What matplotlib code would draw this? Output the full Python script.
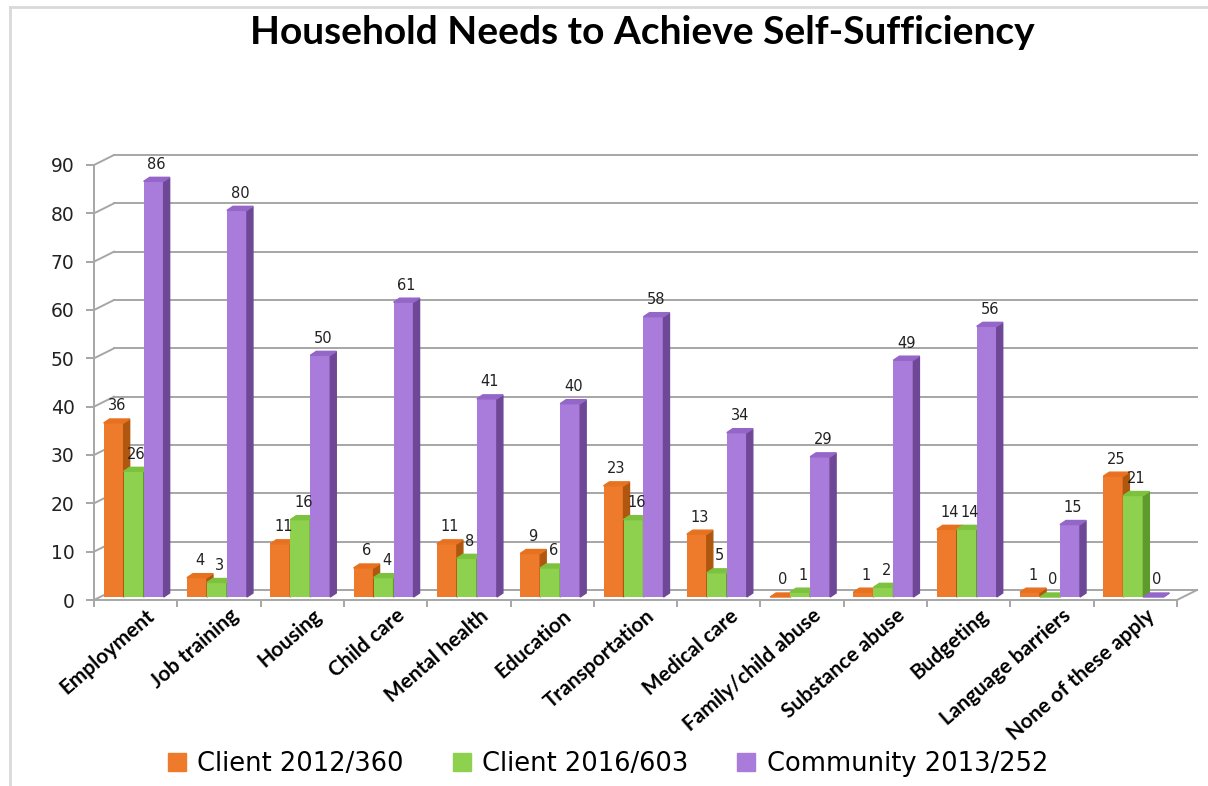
import numpy as np
import matplotlib
matplotlib.use("Agg")
import matplotlib.pyplot as plt
from matplotlib.patches import Polygon
from matplotlib.lines import Line2D
from matplotlib.transforms import ScaledTranslation

categories = ["Employment", "Job training", "Housing", "Child care", "Mental health",
              "Education", "Transportation", "Medical care", "Family/child abuse",
              "Substance abuse", "Budgeting", "Language barriers", "None of these apply"]
client_2012 = [36, 4, 11, 6, 11, 9, 23, 13, 0, 1, 14, 1, 25]
client_2016 = [26, 3, 16, 4, 8, 6, 16, 5, 1, 2, 14, 0, 21]
community_2013 = [86, 80, 50, 61, 41, 40, 58, 34, 29, 49, 56, 15, 0]
series_names = ["Client 2012/360", "Client 2016/603", "Community 2013/252"]
y_ticks = list(range(0, 91, 10))

# front, side, top colours for each series
colors = [("#EE7B2C", "#B0570F", "#E8711F"),
          ("#8ED14F", "#5E9A2C", "#7DC23E"),
          ("#A97BDA", "#6E4896", "#9466C8")]

W, H = 1208, 786
fig = plt.figure(figsize=(W / 100, H / 100), dpi=100)
pos = [94 / W, 186 / H, 1083 / W, 435 / H]
ax = fig.add_axes(pos)
n = len(categories)
ax.set_xlim(-0.5, n - 0.5)
ax.set_ylim(0, 90)

# data units per pixel
ux = n / (W * pos[2])
uy = 90 / (H * pos[3])
grid_c = "#A6A6A6"

# back wall and left wall
bx, by = 20 * ux, 10 * uy
for t in y_ticks:
    ax.plot([-0.5 + bx, n - 0.5 + bx], [t + by, t + by], color=grid_c, lw=1.4,
            clip_on=False, zorder=1)
    ax.plot([-0.5, -0.5 + bx], [t, t + by], color=grid_c, lw=1.4, clip_on=False, zorder=1)
ax.plot([n - 0.5, n - 0.5 + bx], [0, by], color=grid_c, lw=1.4, clip_on=False, zorder=1)

# bars with pseudo 3d faces
w = 0.24
dx, dy = 6 * ux, 4 * uy
base = 3 * uy
shift = -2 * ux
x = np.arange(n)
for j, vals in enumerate([client_2012, client_2016, community_2013]):
    front, side, top = colors[j]
    xs = x + (j - 1) * w + shift
    ax.bar(xs, vals, width=w, bottom=base, color=front, zorder=3 + j, clip_on=False,
           label=series_names[j])
    for xc, v in zip(xs, vals):
        r = xc + w / 2
        l = xc - w / 2
        t = base + v
        ax.add_patch(Polygon([(r, base), (r + dx, base + dy), (r + dx, t + dy), (r, t)],
                             closed=True, color=side, zorder=3 + j, clip_on=False))
        ax.add_patch(Polygon([(l, t), (l + dx, t + dy), (r + dx, t + dy), (r, t)],
                             closed=True, color=top, zorder=3 + j, clip_on=False))
        ax.annotate(str(v), (xc + dx / 2, t + dy), xytext=(0, 4), textcoords="offset points",
                    ha="center", va="bottom", fontsize=10.5, color="#222222", zorder=10)

# axes styling
for s in ["top", "right"]:
    ax.spines[s].set_visible(False)
for s in ["left", "bottom"]:
    ax.spines[s].set_color(grid_c)
    ax.spines[s].set_linewidth(1.4)
ax.set_yticks(y_ticks)
ax.tick_params(axis="y", length=6, width=1.4, color=grid_c, labelsize=13.5, pad=8,
               labelcolor="#222222")
ax.set_xticks(x)
ax.set_xticks(np.arange(-0.5, n, 1), minor=True)
ax.tick_params(axis="x", which="major", length=0, pad=4)
ax.tick_params(axis="x", which="minor", length=5, width=1.4, color=grid_c)
ax.set_xticklabels(categories, rotation=41, ha="right", rotation_mode="anchor",
                   fontsize=15, fontweight="bold", family="Lato")
nudge = ScaledTranslation(10 / 100, 0, fig.dpi_scale_trans)
for lab in ax.get_xticklabels():
    lab.set_transform(lab.get_transform() + nudge)
ax.patch.set_alpha(0)

fig.text(642 / W, 1 - 33 / H, "Household Needs to Achieve Self-Sufficiency",
         ha="center", va="center", fontsize=28, fontweight="bold", family="Lato")

handles = [plt.Rectangle((0, 0), 1, 1, color=c[0]) for c in colors]
fig.legend(handles, series_names, loc="center", bbox_to_anchor=(608 / W, 1 - 764 / H),
           ncol=3, frameon=False, handlelength=0.7, handleheight=0.7,
           handletextpad=0.45, columnspacing=1.9, prop={"family": "DejaVu Sans", "size": 18.5})

# outer border
fig.add_artist(Line2D([10 / W, 1], [1 - 7 / H, 1 - 7 / H], color="#D9D9D9", lw=2))
fig.add_artist(Line2D([10 / W, 10 / W], [0, 1 - 7 / H], color="#D9D9D9", lw=2))

fig.savefig("out.png", dpi=100)
